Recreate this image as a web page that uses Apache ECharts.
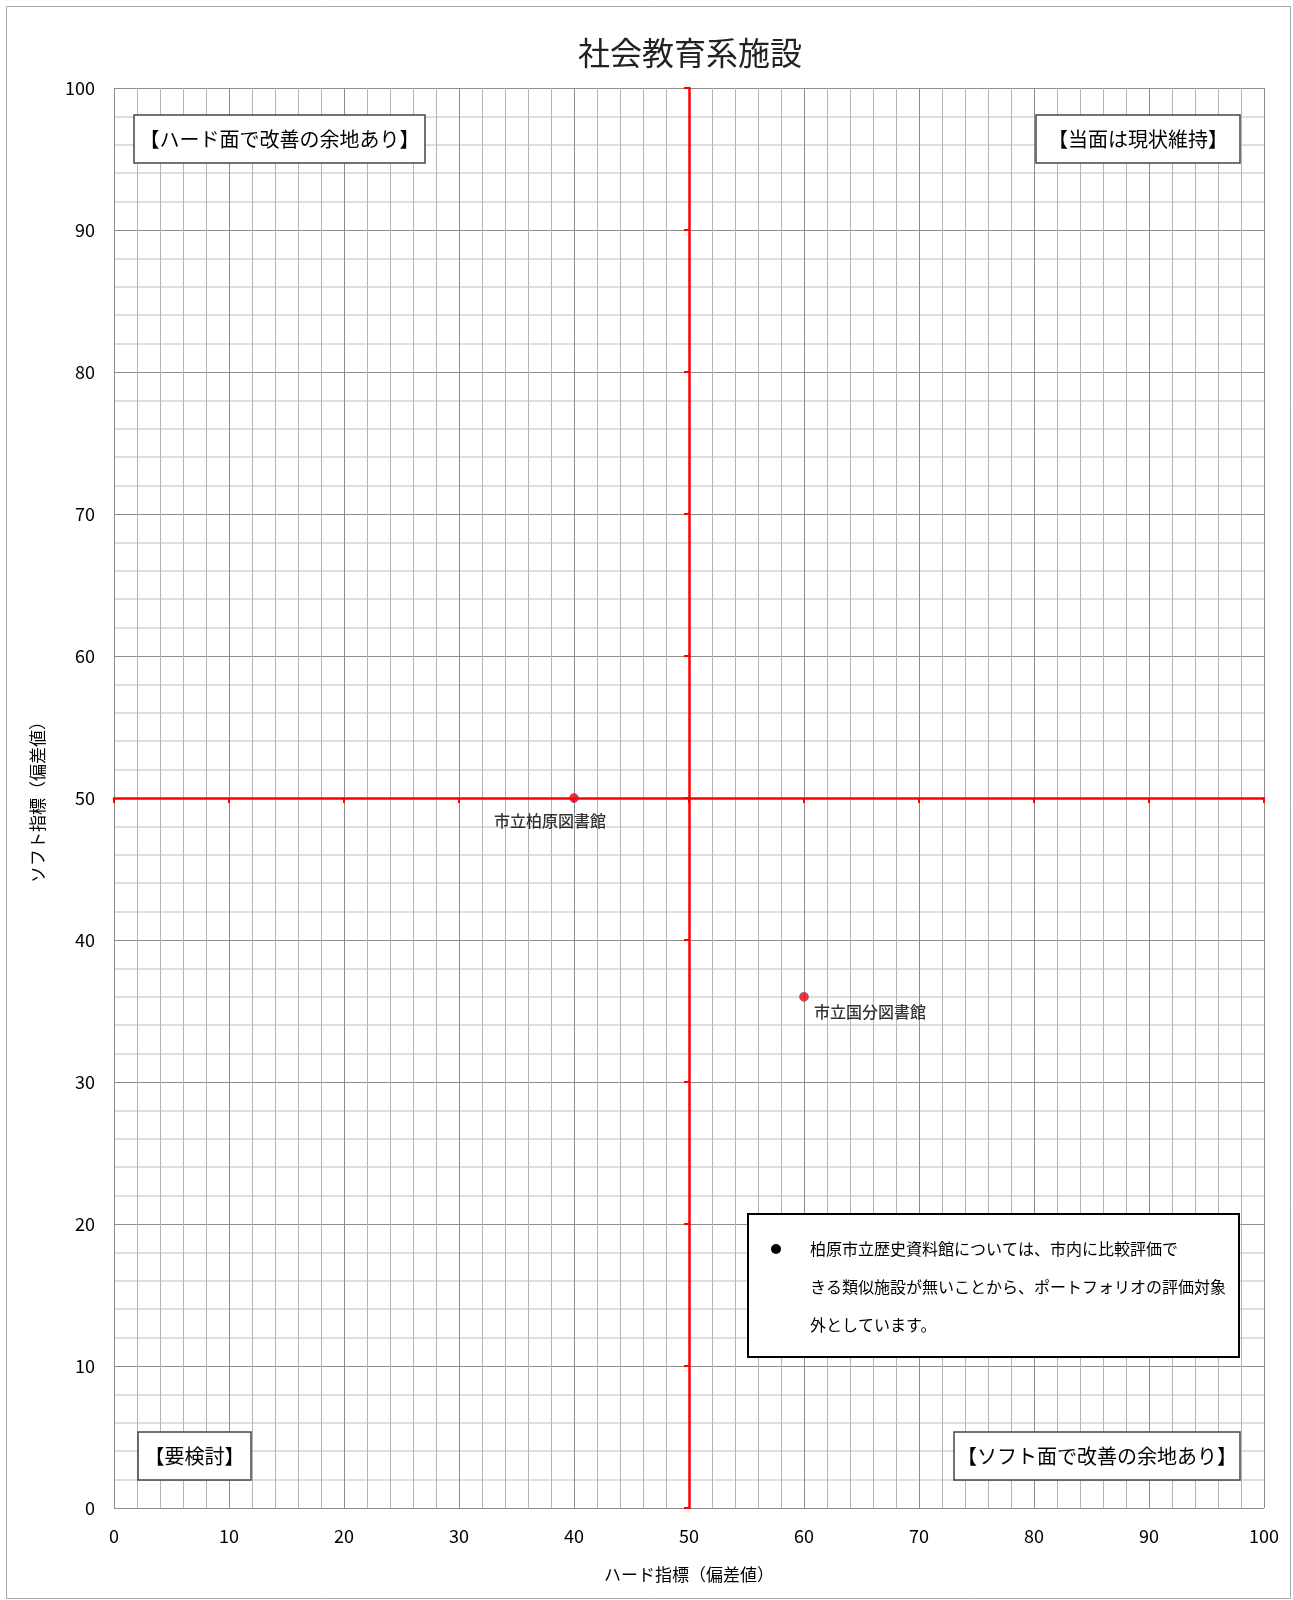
<!DOCTYPE html>
<html>
<head>
<meta charset="utf-8">
<script src="https://cdn.jsdelivr.net/npm/echarts@6/dist/echarts.min.js"></script>
<style>
  body { margin: 0; background: #fff; }
  #chart { width: 1293px; height: 1600px; }
</style>
</head>
<body>
<div id="chart"></div>
<script>
// データ
var facilityNames = ["市立柏原図書館", "市立国分図書館"];
var hardScores = [40, 60];   // ハード指標（偏差値）
var softScores = [50, 36];   // ソフト指標（偏差値）
var axisTicks = [0, 10, 20, 30, 40, 50, 60, 70, 80, 90, 100];
var quadrantLabels = ["【ハード面で改善の余地あり】", "【当面は現状維持】", "【要検討】", "【ソフト面で改善の余地あり】"];
var noteLines = [
  "柏原市立歴史資料館については、市内に比較評価で",
  "きる類似施設が無いことから、ポートフォリオの評価対象",
  "外としています。"
];

var FONT = '"Noto Sans CJK JP", "Noto Sans", sans-serif';
var axisMin = axisTicks[0], axisMax = axisTicks[axisTicks.length - 1];
var step = axisTicks[1] - axisTicks[0];

// ラベル位置（点ごと）
var labelStyles = [
  { position: "bottom", distance: 10, offset: [-24, 0] },
  { position: "right", distance: 5, offset: [0, 15] }
];

var points = facilityNames.map(function (n, i) {
  return {
    name: n,
    value: [hardScores[i], softScores[i]],
    label: labelStyles[i]
  };
});

// 枠付きの象限ラベル
function quadBox(text, x, y, w) {
  return {
    type: "group",
    children: [
      {
        type: "rect",
        z: 100,
        shape: { x: x, y: y, width: w, height: 48 },
        style: { fill: "#fff", stroke: "#444", lineWidth: 1.5 }
      },
      {
        type: "text",
        z: 101,
        x: x + w / 2,
        y: y + 24,
        style: {
          text: text,
          font: "20px " + FONT,
          fill: "#000",
          align: "center",
          verticalAlign: "middle"
        }
      }
    ]
  };
}

var myChart = echarts.init(document.getElementById("chart"));
myChart.setOption({
  animation: false,
  grid: { left: 114, top: 88, width: 1150, height: 1420 },
  xAxis: [
    {
      type: "value",
      min: axisMin,
      max: axisMax,
      interval: step,
      name: "ハード指標（偏差値）",
      nameLocation: "middle",
      nameGap: 58,
      nameTextStyle: { fontFamily: FONT, fontSize: 17, color: "#000" },
      axisLine: { show: false },
      axisTick: { show: false },
      axisLabel: { fontFamily: FONT, fontSize: 18, color: "#000", margin: 19 },
      splitLine: { show: true, lineStyle: { color: "#8c8c8c", width: 1 } },
      minorTick: { show: false, splitNumber: 5 },
      minorSplitLine: { show: true, lineStyle: { color: "#b4b4b4", width: 1 } }
    },
    {
      // 50 の位置の赤い横軸
      type: "value",
      min: axisMin,
      max: axisMax,
      interval: step,
      position: "bottom",
      offset: -710,
      axisLine: { show: true, lineStyle: { color: "#ff0000", width: 2.5 } },
      axisTick: { show: true, length: 5, lineStyle: { color: "#ff0000", width: 2 } },
      axisLabel: { show: false },
      splitLine: { show: false }
    }
  ],
  yAxis: [
    {
      type: "value",
      min: axisMin,
      max: axisMax,
      interval: step,
      name: "ソフト指標（偏差値）",
      nameLocation: "middle",
      nameGap: 68,
      nameTextStyle: { fontFamily: FONT, fontSize: 17, color: "#000" },
      axisLine: { show: false },
      axisTick: { show: false },
      axisLabel: { fontFamily: FONT, fontSize: 18, color: "#000", margin: 19 },
      splitLine: { show: true, lineStyle: { color: "#8c8c8c", width: 1 } },
      minorTick: { show: false, splitNumber: 5 },
      minorSplitLine: { show: true, lineStyle: { color: "#d4d4d4", width: 1.5 } }
    },
    {
      // 50 の位置の赤い縦軸
      type: "value",
      min: axisMin,
      max: axisMax,
      interval: step,
      position: "left",
      offset: -575,
      axisLine: { show: true, lineStyle: { color: "#ff0000", width: 2.5 } },
      axisTick: { show: true, length: 5, lineStyle: { color: "#ff0000", width: 2 } },
      axisLabel: { show: false },
      splitLine: { show: false }
    }
  ],
  series: [
    {
      type: "scatter",
      xAxisIndex: 0,
      yAxisIndex: 0,
      z: 10,
      symbolSize: 9,
      itemStyle: { color: "#ff0000", borderColor: "#5a5fb0", borderWidth: 0.8 },
      label: {
        show: true,
        formatter: "{b}",
        fontFamily: FONT,
        fontSize: 16,
        fontWeight: 500,
        color: "#000"
      },
      data: points
    }
  ],
  graphic: [
    {
      type: "rect",
      shape: { x: 6.5, y: 6.5, width: 1284, height: 1592 },
      style: { fill: null, stroke: "#a6a6a6", lineWidth: 1 },
      silent: true
    },
    {
      type: "text",
      x: 690,
      y: 53,
      style: {
        text: "社会教育系施設",
        font: "32px " + FONT,
        fill: "#222",
        align: "center",
        verticalAlign: "middle"
      }
    },
    quadBox(quadrantLabels[0], 134, 115, 291),
    quadBox(quadrantLabels[1], 1036, 115, 204),
    quadBox(quadrantLabels[2], 138, 1432, 113),
    quadBox(quadrantLabels[3], 954, 1432, 286),
    {
      type: "group",
      children: [
        {
          type: "rect",
          z: 100,
          shape: { x: 748, y: 1214, width: 491, height: 143 },
          style: { fill: "#fff", stroke: "#000", lineWidth: 2 }
        },
        {
          type: "circle",
          z: 101,
          shape: { cx: 776, cy: 1249, r: 5 },
          style: { fill: "#000" }
        },
        {
          type: "text",
          z: 101,
          x: 810,
          y: 1230,
          style: {
            text: noteLines.join("\n"),
            font: "16px " + FONT,
            lineHeight: 38,
            fill: "#000",
            verticalAlign: "top"
          }
        }
      ]
    }
  ]
});
</script>
</body>
</html>
